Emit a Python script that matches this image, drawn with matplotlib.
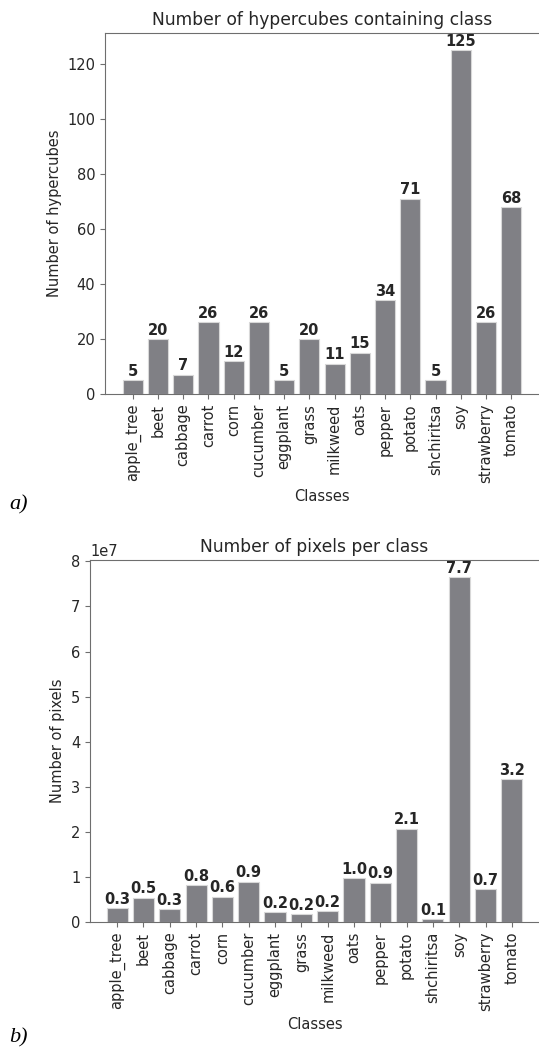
import matplotlib.pyplot as plt
import numpy as np

classes = ["apple_tree", "beet", "cabbage", "carrot", "corn", "cucumber",
           "eggplant", "grass", "milkweed", "oats", "pepper", "potato",
           "shchiritsa", "soy", "strawberry", "tomato"]

hypercubes = [5, 20, 7, 26, 12, 26, 5, 20, 11, 15, 34, 71, 5, 125, 26, 68]

pixels = [3.1e6, 5.4e6, 2.9e6, 8.2e6, 5.6e6, 8.9e6, 2.2e6, 1.7e6, 2.4e6,
          9.7e6, 8.7e6, 2.07e7, 0.6e6, 7.65e7, 7.3e6, 3.17e7]

bar_color = "#808085"
text_color = "#262626"
edge_color = "#6e6e6e"

plt.rcParams["font.family"] = "DejaVu Sans"
plt.rcParams["font.size"] = 10.5
plt.rcParams["axes.titlesize"] = 12.3
plt.rcParams["text.color"] = text_color
plt.rcParams["axes.labelcolor"] = text_color
plt.rcParams["xtick.color"] = text_color
plt.rcParams["ytick.color"] = text_color
plt.rcParams["axes.edgecolor"] = edge_color

fig = plt.figure(figsize=(5.39, 10.5), dpi=100)
x = np.arange(len(classes))


def style(ax):
    ax.spines["right"].set_visible(False)
    ax.set_xticks(x)
    ax.set_xticklabels(classes, rotation=90)
    ax.set_xlabel("Classes")
    ax.tick_params(color=edge_color)


# a) hypercubes
ax1 = fig.add_axes([105 / 539, 1 - 394 / 1050, (539 - 105) / 539, (394 - 33) / 1050])
b1 = ax1.bar(x, hypercubes, width=0.8, color=bar_color, edgecolor="#d8d8d8", linewidth=0.8)
ax1.bar_label(b1, labels=[str(v) for v in hypercubes], padding=1, fontweight="bold", fontsize=10.5)
ax1.set_xlim(-1.1, 16.1)
ax1.set_ylim(0, 131.25)
ax1.set_title("Number of hypercubes containing class")
ax1.set_ylabel("Number of hypercubes")
style(ax1)

# b) pixels
ax2 = fig.add_axes([90 / 539, 1 - 922 / 1050, (539 - 90) / 539, (922 - 560) / 1050])
b2 = ax2.bar(x, pixels, width=0.8, color=bar_color, edgecolor="#d8d8d8", linewidth=0.8)
ax2.bar_label(b2, labels=[f"{v / 1e7:.1f}" for v in pixels], padding=1, fontweight="bold", fontsize=10.5)
ax2.set_xlim(-1.03, 16.03)
ax2.set_ylim(0, 8.03e7)
ax2.set_title("Number of pixels per class")
ax2.set_ylabel("Number of pixels")
style(ax2)

fig.text(9 / 539, 1 - 505 / 1050, "a)", family="Liberation Serif", style="italic",
         fontsize=16, va="center", ha="left", color="black")
fig.text(9 / 539, 1 - 1038 / 1050, "b)", family="Liberation Serif", style="italic",
         fontsize=16, va="center", ha="left", color="black")

fig.savefig("out.png", dpi=100)
